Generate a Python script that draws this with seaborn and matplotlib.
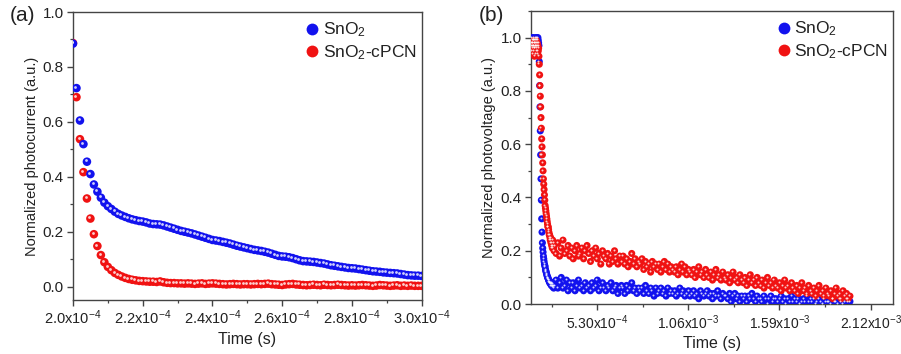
import numpy as np
import pandas as pd
import seaborn as sns
import matplotlib
matplotlib.use("Agg")
import matplotlib.pyplot as plt
import matplotlib.transforms as mtransforms
from matplotlib.lines import Line2D
from matplotlib.ticker import FixedLocator, MultipleLocator, FuncFormatter

sns.set_theme(style="ticks")
plt.rcParams['font.family'] = ['Liberation Sans', 'DejaVu Sans']
plt.rcParams['mathtext.fontset'] = 'custom'
plt.rcParams['mathtext.rm'] = 'Liberation Sans'
plt.rcParams['mathtext.it'] = 'Liberation Sans:italic'
plt.rcParams['mathtext.bf'] = 'Liberation Sans:bold'

LAB_SNO2 = 'SnO$_2$'
LAB_CPCN = 'SnO$_2$-cPCN'
COL = {LAB_SNO2: '#1212ee', LAB_CPCN: '#f01212'}

# ---- panel (a): photocurrent decay, sampled every 1 us from 2.0e-4 s
a_t0, a_dt, a_n = 2.0e-4, 1e-6, 101
a_sno2 = [
  0.885, 0.723, 0.605, 0.519, 0.455, 0.410, 0.372, 0.346, 0.324, 0.306,
  0.293, 0.283, 0.273, 0.265, 0.259, 0.254, 0.249, 0.245, 0.242, 0.239,
  0.237, 0.234, 0.230, 0.228, 0.227, 0.226, 0.223, 0.219, 0.215, 0.211,
  0.207, 0.203, 0.200, 0.197, 0.194, 0.190, 0.186, 0.182, 0.178, 0.174,
  0.170, 0.168, 0.166, 0.163, 0.160, 0.157, 0.153, 0.149, 0.146, 0.143,
  0.140, 0.137, 0.134, 0.132, 0.130, 0.127, 0.124, 0.120, 0.116, 0.112,
  0.110, 0.109, 0.107, 0.104, 0.100, 0.096, 0.093, 0.092, 0.091, 0.090,
  0.088, 0.086, 0.084, 0.081, 0.078, 0.076, 0.074, 0.072, 0.070, 0.068,
  0.067, 0.066, 0.064, 0.062, 0.060, 0.058, 0.056, 0.055, 0.054, 0.052,
  0.051, 0.050, 0.049, 0.048, 0.046, 0.044, 0.042, 0.041, 0.040, 0.040,
  0.039]
a_cpcn = [
  0.887, 0.690, 0.537, 0.417, 0.321, 0.248, 0.191, 0.148, 0.115, 0.089,
  0.072, 0.060, 0.050, 0.043, 0.037, 0.032, 0.028, 0.025, 0.023, 0.021,
  0.020, 0.019, 0.018, 0.018, 0.017, 0.019, 0.016, 0.014, 0.013, 0.013,
  0.012, 0.012, 0.011, 0.012, 0.011, 0.010, 0.011, 0.012, 0.010, 0.011,
  0.012, 0.011, 0.010, 0.009, 0.008, 0.009, 0.010, 0.009, 0.008, 0.009,
  0.009, 0.008, 0.009, 0.010, 0.009, 0.010, 0.011, 0.009, 0.008, 0.007,
  0.006, 0.008, 0.009, 0.010, 0.008, 0.007, 0.006, 0.005, 0.006, 0.007,
  0.006, 0.005, 0.007, 0.006, 0.005, 0.006, 0.007, 0.006, 0.005, 0.004,
  0.005, 0.004, 0.005, 0.006, 0.005, 0.004, 0.003, 0.004, 0.006, 0.005,
  0.004, 0.003, 0.004, 0.005, 0.003, 0.004, 0.003, 0.004, 0.003, 0.003,
  0.003]
a_xticks = [2.0e-4, 2.2e-4, 2.4e-4, 2.6e-4, 2.8e-4, 3.0e-4]
a_yticks = [0.0, 0.2, 0.4, 0.6, 0.8, 1.0]

# ---- panel (b): photovoltage decay
# early part sampled every 2 us from 1.48e-4 s, tail every 10 us from 2.8e-4 s
b_early_t0, b_early_dt, b_early_n = 1.48e-4, 2e-6, 66
b_tail_t0, b_tail_dt, b_tail_n = 2.8e-4, 1e-5, 173
b_sno2_early = [
  0.98, 1.00, 0.97, 0.99, 0.98, 1.00, 0.97, 0.99, 0.98, 0.96, 0.99,
  1.00, 0.97, 0.98, 0.99, 1.00, 0.97, 0.98, 1.00, 0.99, 0.98, 0.97,
  0.91, 0.82, 0.74, 0.65, 0.56, 0.47, 0.39, 0.32, 0.27, 0.23,
  0.21, 0.195, 0.18, 0.17, 0.16, 0.15, 0.145, 0.14, 0.13, 0.125,
  0.12, 0.115, 0.11, 0.105, 0.10, 0.10, 0.095, 0.09, 0.09, 0.085,
  0.08, 0.085, 0.08, 0.075, 0.08, 0.07, 0.075, 0.07, 0.08, 0.065,
  0.07, 0.075, 0.06, 0.07]
b_cpcn_early = [
  0.97, 0.95, 0.98, 0.94, 0.96, 0.99, 0.95, 0.97, 0.93, 0.98, 0.96,
  0.94, 0.97, 0.99, 0.95, 0.96, 0.98, 0.94, 0.97, 0.95, 0.96, 0.93,
  0.90, 0.86, 0.82, 0.78, 0.74, 0.70, 0.66, 0.62, 0.59, 0.56, 0.53,
  0.50, 0.47, 0.45, 0.43, 0.41,
  0.39, 0.37, 0.36, 0.35, 0.34, 0.33, 0.32, 0.31, 0.30, 0.29,
  0.29, 0.28, 0.27, 0.26, 0.26, 0.25, 0.24, 0.25, 0.23, 0.24,
  0.22, 0.23, 0.21, 0.24, 0.22, 0.21, 0.23, 0.20]
b_sno2_tail = [
  0.07, 0.09, 0.06, 0.08, 0.10, 0.06, 0.07, 0.09, 0.05, 0.08,
  0.06, 0.08, 0.05, 0.07, 0.09, 0.06, 0.07, 0.05, 0.08, 0.06,
  0.07, 0.05, 0.08, 0.06, 0.07, 0.09, 0.05, 0.06, 0.08, 0.06,
  0.05, 0.07, 0.06, 0.08, 0.05, 0.06, 0.07, 0.04, 0.06, 0.07,
  0.06, 0.04, 0.07, 0.05, 0.06, 0.08, 0.05, 0.06, 0.04, 0.06,
  0.05, 0.06, 0.04, 0.07, 0.05, 0.04, 0.06, 0.05, 0.03, 0.06,
  0.04, 0.05, 0.06, 0.04, 0.05, 0.03, 0.06, 0.04, 0.05, 0.04,
  0.05, 0.03, 0.04, 0.06, 0.04, 0.05, 0.03, 0.04, 0.05, 0.03,
  0.04, 0.05, 0.03, 0.04, 0.02, 0.05, 0.04, 0.03, 0.04, 0.05,
  0.03, 0.04, 0.02, 0.04, 0.03, 0.05, 0.03, 0.02, 0.04, 0.03,
  0.03, 0.02, 0.04, 0.01, 0.03, 0.04, 0.02, 0.03, 0.01, 0.03,
  0.02, 0.03, 0.01, 0.03, 0.02, 0.04, 0.02, 0.01, 0.03, 0.02,
  0.02, 0.01, 0.03, 0.02, 0.00, 0.02, 0.03, 0.01, 0.02, 0.02,
  0.01, 0.02, 0.03, 0.01, 0.02, 0.00, 0.02, 0.01, 0.03, 0.01,
  0.02, 0.01, 0.02, 0.00, 0.01, 0.02, 0.01, 0.03, 0.01, 0.02,
  0.01, 0.02, 0.00, 0.01, 0.02, 0.01, 0.00, 0.02, 0.01, 0.01,
  0.01, 0.00, 0.02, 0.01, 0.01, 0.00, 0.02, 0.01, 0.00, 0.01,
  0.02, 0.01, 0.01]
b_cpcn_tail = [
  0.22, 0.19, 0.23, 0.18, 0.21, 0.24, 0.19, 0.20, 0.22, 0.18,
  0.21, 0.17, 0.20, 0.22, 0.18, 0.19, 0.21, 0.17, 0.20, 0.22,
  0.19, 0.16, 0.20, 0.18, 0.21, 0.17, 0.19, 0.15, 0.20, 0.18,
  0.17, 0.19, 0.15, 0.18, 0.16, 0.20, 0.17, 0.15, 0.18, 0.16,
  0.18, 0.15, 0.17, 0.14, 0.16, 0.19, 0.15, 0.17, 0.14, 0.16,
  0.15, 0.17, 0.13, 0.16, 0.14, 0.15, 0.12, 0.16, 0.14, 0.15,
  0.13, 0.15, 0.12, 0.14, 0.16, 0.13, 0.15, 0.12, 0.14, 0.13,
  0.12, 0.14, 0.11, 0.13, 0.15, 0.12, 0.14, 0.11, 0.13, 0.12,
  0.11, 0.13, 0.10, 0.12, 0.14, 0.11, 0.12, 0.10, 0.13, 0.11,
  0.10, 0.12, 0.09, 0.11, 0.13, 0.10, 0.11, 0.09, 0.12, 0.10,
  0.09, 0.11, 0.08, 0.10, 0.12, 0.09, 0.10, 0.08, 0.11, 0.09,
  0.08, 0.10, 0.07, 0.09, 0.11, 0.08, 0.09, 0.07, 0.10, 0.08,
  0.07, 0.09, 0.06, 0.08, 0.10, 0.07, 0.08, 0.06, 0.09, 0.07,
  0.06, 0.08, 0.05, 0.07, 0.09, 0.06, 0.07, 0.05, 0.08, 0.06,
  0.05, 0.07, 0.04, 0.06, 0.08, 0.05, 0.06, 0.04, 0.07, 0.05,
  0.04, 0.06, 0.03, 0.05, 0.07, 0.04, 0.05, 0.03, 0.06, 0.04,
  0.03, 0.05, 0.02, 0.04, 0.06, 0.03, 0.04, 0.02, 0.05, 0.03,
  0.04, 0.02, 0.03]
b_xticks = [5.30e-4, 1.06e-3, 1.59e-3, 2.12e-3]
b_xtick_labels = ['5.30x10$^{-4}$', '1.06x10$^{-3}$', '1.59x10$^{-3}$', '2.12x10$^{-3}$']
b_yticks = [0.0, 0.2, 0.4, 0.6, 0.8, 1.0]


def series_frame(t, v, label):
  return pd.DataFrame({'time': t, 'value': v, 'sample': label})


def sphere_scatter(ax, fig, df, size, hl_size, hl_off):
  # coloured ball plus a small white highlight to imitate shaded spheres
  sns.scatterplot(data=df, x='time', y='value', hue='sample', palette=COL,
                  s=size, linewidth=0, legend=False, ax=ax, zorder=3)
  off = mtransforms.offset_copy(ax.transData, fig=fig, x=-hl_off, y=hl_off, units='dots')
  sns.scatterplot(data=df, x='time', y='value', color='white', s=hl_size,
                  linewidth=0, alpha=0.8, legend=False, ax=ax, transform=off, zorder=4)


def style_axes(ax, xlabelsize=11):
  for sp in ax.spines.values():
    sp.set_color('#444444')
    sp.set_linewidth(1.0)
  ax.tick_params(which='major', direction='out', length=4.5, width=1.0, color='#444444',
                 labelsize=11, labelcolor='#222222', pad=2, top=False, right=False)
  ax.tick_params(axis='x', which='major', labelsize=xlabelsize)
  ax.tick_params(which='minor', direction='out', length=2.5, width=0.9, color='#444444',
                 top=False, right=False)
  ax.set_xlabel('Time (s)', fontsize=11.5, color='#222222', labelpad=3)


def add_legend(ax):
  handles = [Line2D([], [], ls='', marker='o', markersize=8.5, color=COL[k],
                    markeredgewidth=0, label=k) for k in (LAB_SNO2, LAB_CPCN)]
  ax.legend(handles=handles, loc='upper right', bbox_to_anchor=(1.01, 1.0), frameon=False,
            fontsize=12.5, handletextpad=0.1, borderaxespad=0.1, labelspacing=0.2,
            handlelength=1.0, labelcolor='#222222')


fig = plt.figure(figsize=(9.01, 3.54), dpi=100)
ax_a = fig.add_axes([0.081, 0.153, 0.387, 0.813])
ax_b = fig.add_axes([0.589, 0.141, 0.402, 0.828])

# panel (a)
t_a = a_t0 + a_dt * np.arange(a_n)
df_a = pd.concat([series_frame(t_a, a_cpcn, LAB_CPCN), series_frame(t_a, a_sno2, LAB_SNO2)])
sphere_scatter(ax_a, fig, df_a, 38, 4, 1.3)
ax_a.set_xlim(2.0e-4, 3.0e-4)
ax_a.set_ylim(-0.048, 1.0)
ax_a.xaxis.set_major_locator(FixedLocator(a_xticks))
ax_a.xaxis.set_minor_locator(MultipleLocator(1e-5))
ax_a.xaxis.set_major_formatter(FuncFormatter(lambda x, p: '%.1fx10$^{-4}$' % (x * 1e4)))
ax_a.yaxis.set_major_locator(FixedLocator(a_yticks))
ax_a.yaxis.set_minor_locator(MultipleLocator(0.1))
ax_a.yaxis.set_major_formatter(FuncFormatter(lambda y, p: '%.1f' % y))
style_axes(ax_a, xlabelsize=10.5)
ax_a.set_ylabel('Normalized photocurrent (a.u.)', fontsize=10.5, color='#222222', labelpad=3)
add_legend(ax_a)
fig.text(0.011, 0.955, '(a)', fontsize=15, color='#222222', ha='left', va='center')

# panel (b)
t_b_early = b_early_t0 + b_early_dt * np.arange(b_early_n)
t_b_tail = b_tail_t0 + b_tail_dt * np.arange(b_tail_n)
df_b = pd.concat([
  series_frame(t_b_early, b_sno2_early, LAB_SNO2),
  series_frame(t_b_tail, b_sno2_tail, LAB_SNO2),
  series_frame(t_b_early, b_cpcn_early, LAB_CPCN),
  series_frame(t_b_tail, b_cpcn_tail, LAB_CPCN),
])
sphere_scatter(ax_b, fig, df_b, 26, 2, 0.9)
ax_b.set_xlim(1.42e-4, 2.25e-3)
ax_b.set_ylim(0.0, 1.1)
ax_b.xaxis.set_major_locator(FixedLocator(b_xticks))
ax_b.xaxis.set_minor_locator(MultipleLocator(2.65e-4))
ax_b.set_xticklabels(b_xtick_labels)
ax_b.yaxis.set_major_locator(FixedLocator(b_yticks))
ax_b.yaxis.set_minor_locator(MultipleLocator(0.1))
ax_b.yaxis.set_major_formatter(FuncFormatter(lambda y, p: '%.1f' % y))
style_axes(ax_b, xlabelsize=10)
ax_b.set_ylabel('Normalized photovoltage (a.u.)', fontsize=10.5, color='#222222', labelpad=3)
add_legend(ax_b)
fig.text(0.531, 0.955, '(b)', fontsize=15, color='#222222', ha='left', va='center')

fig.savefig('out.png', dpi=100, facecolor='white')
